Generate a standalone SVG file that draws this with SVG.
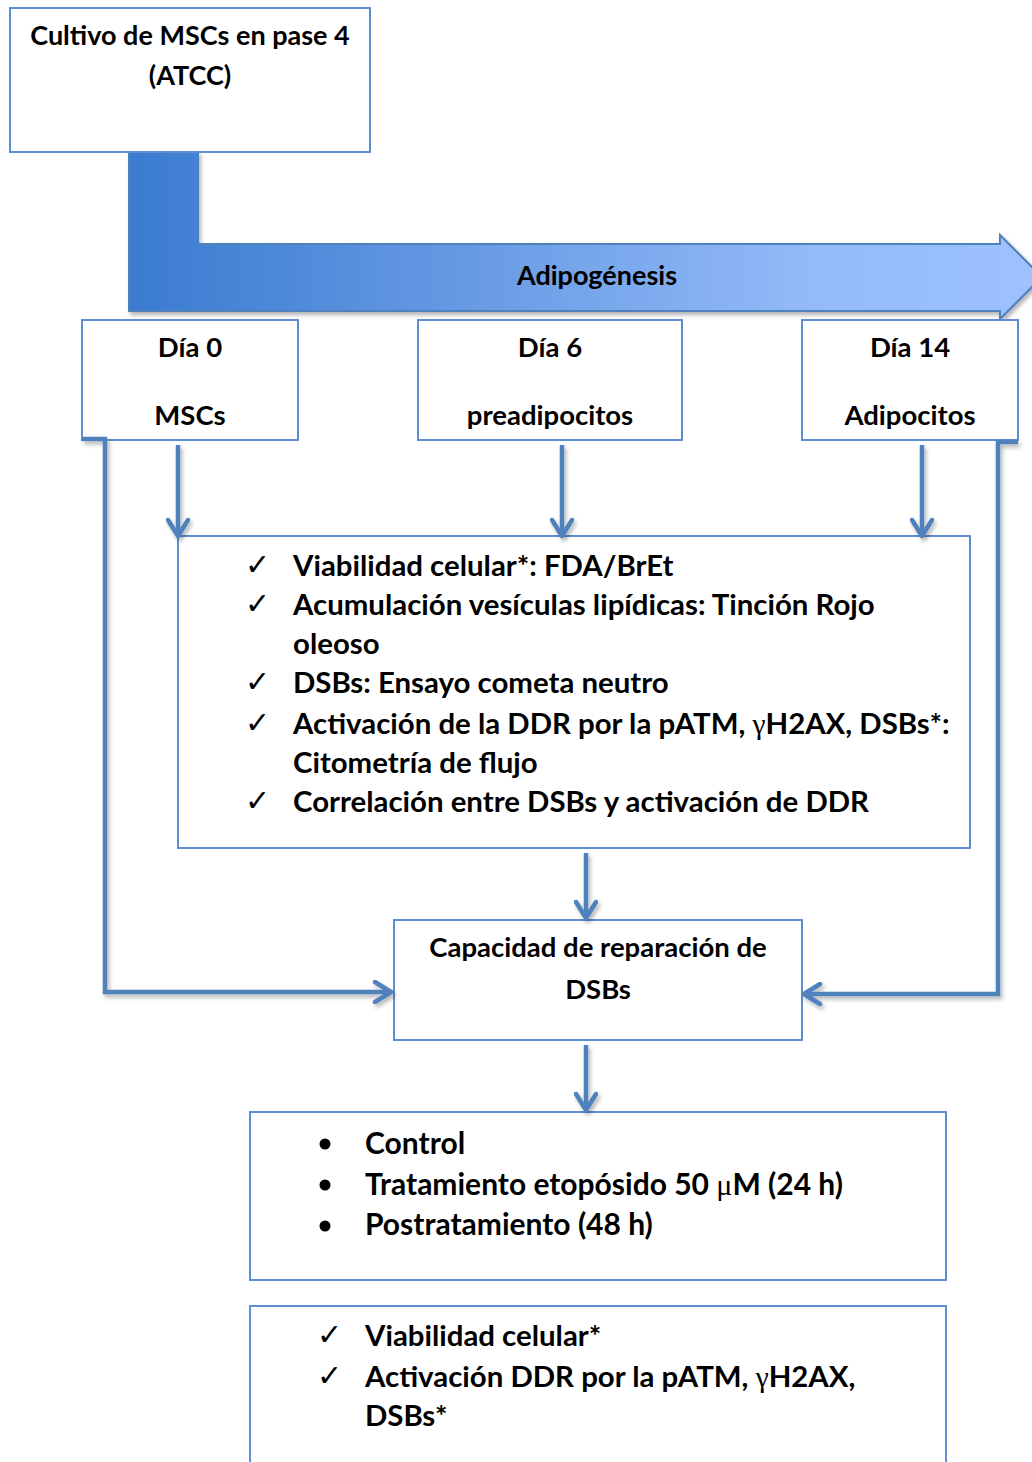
<svg xmlns="http://www.w3.org/2000/svg" width="1032" height="1462" viewBox="0 0 1032 1462">
<defs>
<linearGradient id="g" x1="0" y1="0" x2="1" y2="0">
<stop offset="0" stop-color="#3a7bd0"/>
<stop offset="0.75" stop-color="#94baf8"/>
<stop offset="1" stop-color="#9dc2ff"/>
</linearGradient>
<filter id="sh" filterUnits="userSpaceOnUse" x="0" y="0" width="1032" height="1462">
<feDropShadow dx="2" dy="3" stdDeviation="2" flood-color="#000" flood-opacity="0.3"/>
</filter>
<marker id="ah" viewBox="0 0 24 24" refX="21" refY="12" markerWidth="24" markerHeight="24" markerUnits="userSpaceOnUse" orient="auto">
<path d="M5,2 L21,12 L5,22" fill="none" stroke="#4f81bd" stroke-width="4.5" stroke-linecap="round" stroke-linejoin="round"/>
</marker>
</defs>
<style>
.box{fill:#fff;stroke:#5f8fd2;stroke-width:2}
.t{font-family:Lato,"Open Sans","Liberation Sans",sans-serif;font-weight:700;font-size:29.4px;fill:#000}
.c{text-anchor:middle}
.s{font-family:"Liberation Serif",serif;font-weight:400}
.ck{font-family:"DejaVu Sans",sans-serif;font-weight:400;font-size:30px}
.ln{fill:none;stroke:#4f81bd;stroke-width:4.5;filter:url(#sh)}
</style>
<g id="big-arrow">
<path d="M129,152 H198 V244 H1000 V235 L1042,277 L1000,319 V311 H129 Z" fill="url(#g)" stroke="#4f81bd" stroke-width="2" filter="url(#sh)"/>
<text class="t c" x="597" y="285" style="font-size:27px">Adipogénesis</text>
</g>
<g id="n-cultivo">
<rect class="box" x="10" y="8" width="360" height="144"/>
<text class="t c" x="190" y="45" style="font-size:27px">Cultivo de MSCs en pase 4</text>
<text class="t c" x="190" y="85" style="font-size:27px">(ATCC)</text>
</g>
<g id="n-dia0">
<rect class="box" x="82" y="320" width="216" height="120"/>
<text class="t c" x="190" y="357" style="font-size:27.5px">Día 0</text>
<text class="t c" x="190" y="425" style="font-size:27.5px">MSCs</text>
</g>
<g id="n-dia6">
<rect class="box" x="418" y="320" width="264" height="120"/>
<text class="t c" x="550" y="357" style="font-size:27.5px">Día 6</text>
<text class="t c" x="550" y="425" style="font-size:27.5px">preadipocitos</text>
</g>
<g id="n-dia14">
<rect class="box" x="802" y="320" width="216" height="120"/>
<text class="t c" x="910" y="357" style="font-size:27.5px">Día 14</text>
<text class="t c" x="910" y="425" style="font-size:27.5px">Adipocitos</text>
</g>
<g id="n-ensayos">
<rect class="box" x="178" y="536" width="792" height="312"/>
<text class="t ck" x="245" y="575">✓</text>
<text class="t" x="293" y="576">Viabilidad celular*: FDA/BrEt</text>
<text class="t ck" x="245" y="614">✓</text>
<text class="t" x="293" y="615">Acumulación vesículas lipídicas: Tinción Rojo</text>
<text class="t" x="293" y="654">oleoso</text>
<text class="t ck" x="245" y="692">✓</text>
<text class="t" x="293" y="693">DSBs: Ensayo cometa neutro</text>
<text class="t ck" x="245" y="733">✓</text>
<text class="t" x="293" y="734">Activación de la DDR por la pATM, <tspan class="s">γ</tspan>H2AX, DSBs*:</text>
<text class="t" x="293" y="773">Citometría de flujo</text>
<text class="t ck" x="245" y="811">✓</text>
<text class="t" x="293" y="812">Correlación entre DSBs y activación de DDR</text>
</g>
<g id="n-reparacion">
<rect class="box" x="394" y="920" width="408" height="120"/>
<text class="t c" x="598" y="957" style="font-size:27.5px">Capacidad de reparación de</text>
<text class="t c" x="598" y="999" style="font-size:27.5px">DSBs</text>
</g>
<g id="n-tratamiento">
<rect class="box" x="250" y="1112" width="696" height="168"/>
<circle cx="325" cy="1144" r="5.5" fill="#000"/>
<circle cx="325" cy="1185" r="5.5" fill="#000"/>
<circle cx="325" cy="1226" r="5.5" fill="#000"/>
<text class="t" x="365" y="1154" style="font-size:30px">Control</text>
<text class="t" x="365" y="1195" style="font-size:30px">Tratamiento etopósido 50 <tspan class="s">μ</tspan>M (24 h)</text>
<text class="t" x="365" y="1235" style="font-size:30px">Postratamiento (48 h)</text>
</g>
<g id="n-evaluacion">
<rect class="box" x="250" y="1306" width="696" height="170"/>
<text class="t ck" x="317" y="1345">✓</text>
<text class="t" x="365" y="1346">Viabilidad celular*</text>
<text class="t ck" x="317" y="1386">✓</text>
<text class="t" x="365" y="1387">Activación DDR por la pATM, <tspan class="s">γ</tspan>H2AX,</text>
<text class="t" x="365" y="1426">DSBs*</text>
</g>
<g id="connectors">
<path class="ln" d="M178,445 V536" marker-end="url(#ah)"/>
<path class="ln" d="M562,445 V536" marker-end="url(#ah)"/>
<path class="ln" d="M922,445 V536" marker-end="url(#ah)"/>
<path class="ln" d="M82,439 H105 V992 H391" marker-end="url(#ah)"/>
<path class="ln" d="M1018,442 H998 V994 H804" marker-end="url(#ah)"/>
<path class="ln" d="M586,853 V918" marker-end="url(#ah)"/>
<path class="ln" d="M586,1045 V1110" marker-end="url(#ah)"/>
</g>
</svg>
